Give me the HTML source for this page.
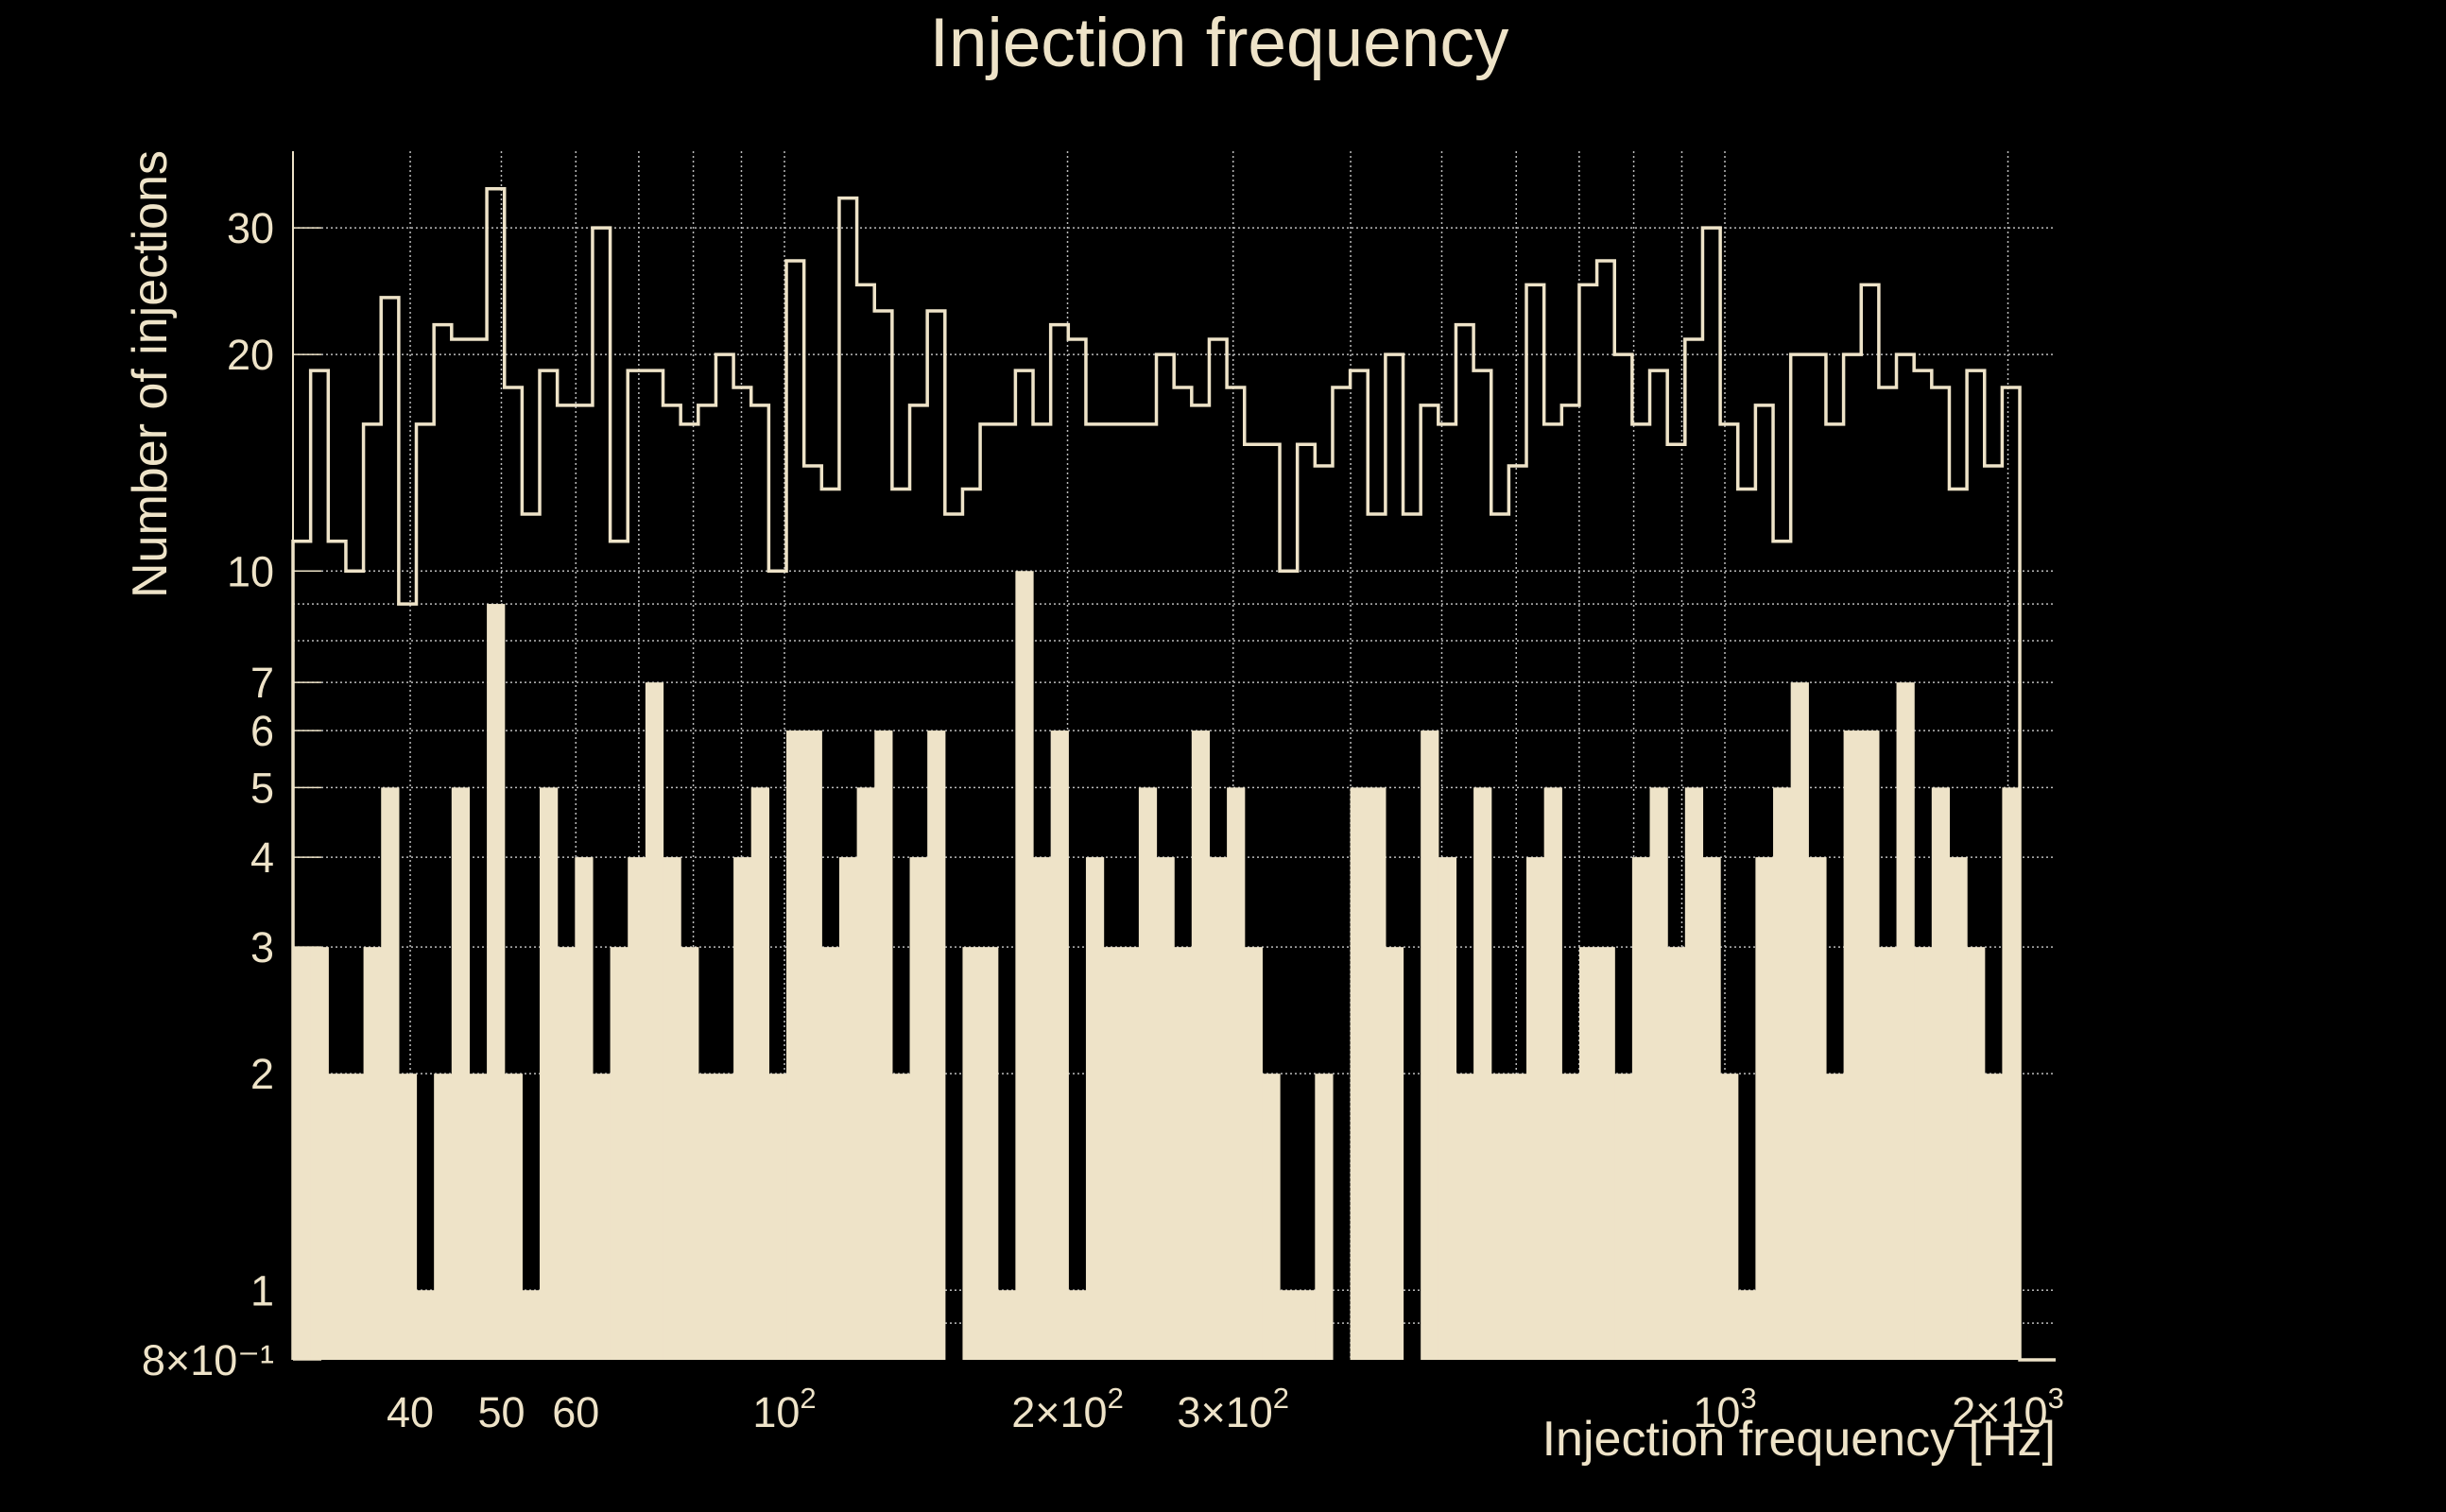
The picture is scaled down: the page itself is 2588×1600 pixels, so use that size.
<!DOCTYPE html>
<html><head><meta charset="utf-8"><style>
html,body{margin:0;padding:0;background:#000;}
svg{display:block;}
text{font-family:"Liberation Sans",sans-serif;fill:#eee3c8;}
</style></head><body>
<svg id="chart" width="2588" height="1600" viewBox="0 0 2588 1600" xmlns="http://www.w3.org/2000/svg">
<rect width="2588" height="1600" fill="#000"/>
<g id="grid"></g>
<g id="bars"></g>
<g id="outline"></g>
<g id="axes"></g>
<text x="1290" y="70" font-size="73" text-anchor="middle">Injection frequency</text>
<text transform="translate(176,396) rotate(-90)" font-size="52" text-anchor="middle">Number of injections</text>
<text x="2175" y="1540" font-size="52" text-anchor="end">Injection frequency [Hz]</text>
</svg>
<script>
const filledCounts = [3,3,2,2,3,5,2,1,2,5,2,9,2,1,5,3,4,2,3,4,7,4,3,2,2,4,5,2,6,6,3,4,5,6,2,4,6,0,3,3,1,10,4,6,1,4,3,3,5,4,3,6,4,5,3,2,1,1,2,0,5,5,3,0,6,4,2,5,2,2,4,5,2,3,3,2,4,5,3,5,4,2,1,4,5,7,4,2,6,6,3,7,3,5,4,3,2,5];
const outlineCounts = [11,19,11,10,16,24,9,16,22,21,21,34,18,12,19,17,17,30,11,19,19,17,16,17,20,18,17,10,27,14,13,33,25,23,13,17,23,12,13,16,16,19,16,22,21,16,16,16,16,20,18,17,21,18,15,15,10,15,14,18,19,12,20,12,17,16,22,19,12,14,25,16,17,25,27,20,16,19,15,21,30,16,13,17,11,20,20,16,20,25,18,20,19,18,13,19,14,18];
const binLogMin = 1.4774, binLogMax = 3.3136;
const yTickValues = [30,20,10,7,6,5,4,3,2,1,0.8];
const yTickLabels = ["30","20","10","7","6","5","4","3","2","1","8×10⁻¹"];
const yGridValues = [30,20,10,9,8,7,6,5,4,3,2,1,0.9];
const xGridValues = [40,50,60,70,80,90,100,200,300,400,500,600,700,800,900,1000,2000];
const xTickValues = [40,50,60,100,200,300,1000,2000];
const xTickMant = ["40","50","60","10","2×10","3×10","10","2×10"];
const xTickExp = ["","","","2","2","2","3","3"];

const NS="http://www.w3.org/2000/svg";
const X0=310, X1=2175, YT=160, YB=1439, YMIN=0.8;
function xs(f){return 830+(Math.log10(f)-2)*995;}
function xl(l){return 830+(l-2)*995;}
function ys(v){v=Math.max(v,YMIN);return YB-(Math.log10(v)-Math.log10(YMIN))*761;}
function mk(tag,parent,attrs){const e=document.createElementNS(NS,tag);for(const k in attrs)e.setAttribute(k,attrs[k]);parent.appendChild(e);return e;}
const C="#eee3c8";
const grid=document.getElementById('grid');
yGridValues.forEach(v=>{
  const l=mk('line',grid,{x1:X0,x2:X1,y1:ys(v),y2:ys(v),stroke:"#bbb",'stroke-width':1.5,'stroke-dasharray':"2 3"});
  
  
});
xGridValues.forEach(f=>{
  const l=mk('line',grid,{x1:xs(f),x2:xs(f),y1:YT,y2:YB,stroke:"#bbb",'stroke-width':1.5,'stroke-dasharray':"2 3"});
  
  
});
const n=filledCounts.length, w=(binLogMax-binLogMin)/n;
const bars=document.getElementById('bars');
filledCounts.forEach((v,i)=>{
  if(v<=0) return;
  const a=xl(binLogMin+i*w), b=xl(binLogMin+(i+1)*w);
  const r=mk('rect',bars,{x:a,y:ys(v),width:b-a+0.6,height:YB-ys(v),fill:C});
  
  
});
const m=outlineCounts.length, w2=(binLogMax-binLogMin)/m;
let d="M"+xl(binLogMin)+","+YB;
outlineCounts.forEach((v,i)=>{
  const a=xl(binLogMin+i*w2), b=xl(binLogMin+(i+1)*w2);
  d+=" L"+a+","+ys(v)+" L"+b+","+ys(v);
});
d+=" L"+xl(binLogMax)+","+YB+" L"+X1+","+YB;
const p=mk('path',document.getElementById('outline'),{d:d,fill:"none",stroke:C,'stroke-width':3.5});


const axes=document.getElementById('axes');
const ax=mk('line',axes,{x1:X0,x2:X0,y1:YT,y2:YB,stroke:C,'stroke-width':2});


yTickValues.forEach((v,i)=>{
  const t=mk('line',axes,{x1:X0,x2:X0+30,y1:ys(v),y2:ys(v),stroke:C,'stroke-width':1.5});
  
  
  const tx=mk('text',axes,{x:290,y:ys(v)+16,'font-size':45,'text-anchor':'end'});
  tx.textContent=yTickLabels[i];
  
  
});
xTickValues.forEach((f,i)=>{
  const tx=mk('text',axes,{x:xs(f),y:1510,'font-size':45,'text-anchor':'middle'});
  tx.textContent=xTickMant[i];
  if(xTickExp[i]){
    const s=document.createElementNS(NS,'tspan');
    s.setAttribute('dy','-20');s.setAttribute('font-size','31');
    s.textContent=xTickExp[i];tx.appendChild(s);
  }
  
  
});
</script>
</body></html>
